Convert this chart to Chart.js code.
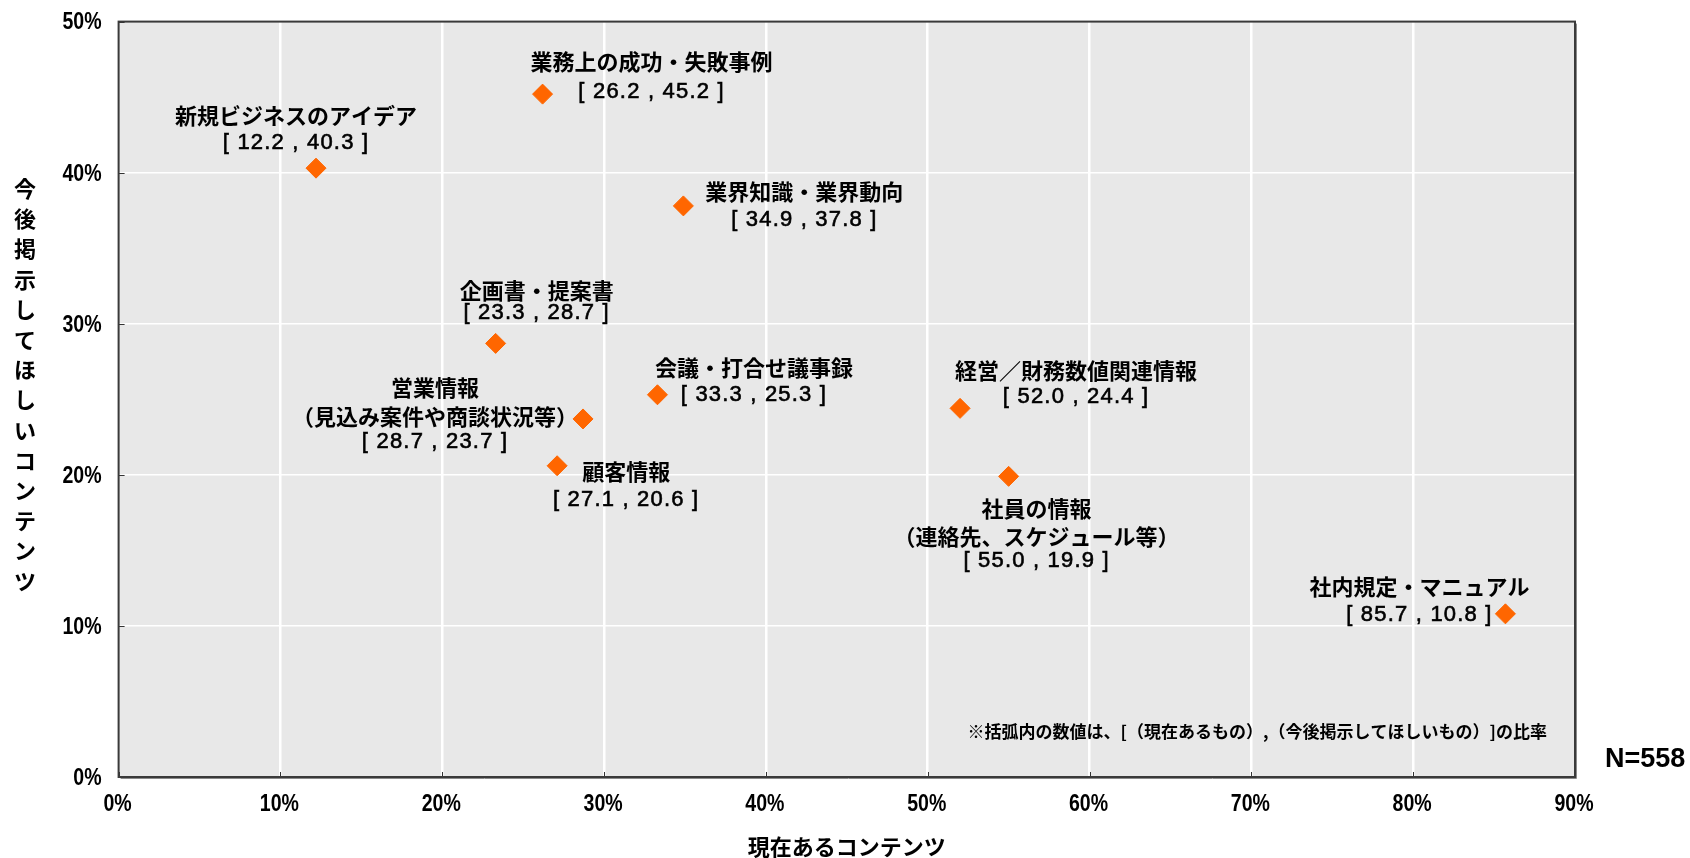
<!DOCTYPE html>
<html lang="ja">
<head>
<meta charset="utf-8">
<title>現在あるコンテンツ／今後掲示してほしいコンテンツ</title>
<script src="https://cdn.jsdelivr.net/npm/chart.js@4/dist/chart.umd.min.js"></script>
<style>
  html, body { margin: 0; padding: 0; background: #ffffff; }
  #wrap { position: relative; width: 1690px; height: 858px; }
</style>
</head>
<body>
<div id="wrap"><canvas id="c" width="1690" height="858"></canvas></div>
<script>
// ---- data -------------------------------------------------------------
const contentNames = [
  ['業務上の成功・失敗事例'],
  ['新規ビジネスのアイデア'],
  ['業界知識・業界動向'],
  ['企画書・提案書'],
  ['会議・打合せ議事録'],
  ['営業情報', '（見込み案件や商談状況等）'],
  ['顧客情報'],
  ['経営／財務数値関連情報'],
  ['社員の情報', '（連絡先、スケジュール等）'],
  ['社内規定・マニュアル']
];
// 現在あるコンテンツ (%)
const currentShare = [26.2, 12.2, 34.9, 23.3, 33.3, 28.7, 27.1, 52.0, 55.0, 85.7];
// 今後掲示してほしいコンテンツ (%)
const desiredShare = [45.2, 40.3, 37.8, 28.7, 25.3, 23.7, 20.6, 24.4, 19.9, 10.8];

const xTickValues = [0, 10, 20, 30, 40, 50, 60, 70, 80, 90];
const yTickValues = [0, 10, 20, 30, 40, 50];

const xTitle = '現在あるコンテンツ';
const yTitle = '今後掲示してほしいコンテンツ';
const noteText = '※括弧内の数値は、[（現在あるもの）,（今後掲示してほしいもの）]の比率';
const sampleSize = 558;

// ---- styling ------------------------------------------------------------
const CJK = "'Noto Sans CJK JP', 'Noto Sans', sans-serif";
const NUM = "'Liberation Sans', Arial, sans-serif";
const MARK = '#ff6600';

// label block placement relative to each marker: horizontal shift and
// vertical centre of each text line (name lines first, then the values)
const labelPlacement = [
  { dx: 109,  dy: [-32.5, -2.5] },
  { dx: -20,  dy: [-53, -25] },
  { dx: 121,  dy: [-14, 14] },
  { dx: 41,   dy: [-53, -30] },
  { dx: 96.5, dy: [-27, 0] },
  { dx: -148, dy: [-31, -2, 23] },
  { dx: 69,   dy: [6, 34] },
  { dx: 116,  dy: [-38, -11.5] },
  { dx: 28,   dy: [32, 60, 85] },
  { dx: -86,  dy: [-27, 1] }
];

const fmt = v => v.toFixed(1);
const pct = v => v + '%';

// draws text squeezed horizontally (narrow numerals for the axes)
function narrowText(ctx, text, x, y, align, squeeze) {
  ctx.save();
  ctx.translate(x, y);
  ctx.scale(squeeze, 1);
  ctx.textAlign = align;
  ctx.fillText(text, 0, 0);
  ctx.restore();
}

const plotFrame = {
  id: 'plotFrame',
  beforeDraw(chart) {
    const { ctx, chartArea: a } = chart;
    ctx.save();
    ctx.fillStyle = '#e8e8e8';
    ctx.fillRect(a.left, a.top, a.right - a.left, a.bottom - a.top);
    ctx.restore();
  },
  beforeDatasetsDraw(chart) {
    const { ctx, chartArea: a, scales } = chart;
    ctx.save();
    // short inner tick marks
    ctx.strokeStyle = '#333333';
    ctx.lineWidth = 1;
    ctx.beginPath();
    xTickValues.forEach(v => {
      const x = Math.round(scales.x.getPixelForValue(v)) + 0.5;
      ctx.moveTo(x, a.bottom);
      ctx.lineTo(x, a.bottom - 5);
    });
    yTickValues.forEach(v => {
      const y = Math.round(scales.y.getPixelForValue(v)) + 0.5;
      ctx.moveTo(a.left, y);
      ctx.lineTo(a.left + 6, y);
    });
    ctx.stroke();
    // frame
    ctx.strokeStyle = '#3a3a3a';
    ctx.lineWidth = 2;
    ctx.strokeRect(a.left, a.top, a.right - a.left, a.bottom - a.top);
    ctx.strokeStyle = '#8a8a8a';
    ctx.lineWidth = 1;
    ctx.beginPath();
    ctx.moveTo(a.right + 1.5, a.top + 2);
    ctx.lineTo(a.right + 1.5, a.bottom + 1.5);
    ctx.lineTo(a.left + 2, a.bottom + 1.5);
    ctx.stroke();

    // axis tick labels
    ctx.fillStyle = '#000000';
    ctx.textBaseline = 'middle';
    ctx.font = `bold 23px ${NUM}`;
    xTickValues.forEach(v => {
      narrowText(ctx, pct(v), scales.x.getPixelForValue(v) - 1, a.bottom + 28, 'center', 0.85);
    });
    yTickValues.forEach(v => {
      narrowText(ctx, pct(v), a.left - 17, scales.y.getPixelForValue(v) + 1.5, 'right', 0.85);
    });
    ctx.restore();
  },
  afterDatasetsDraw(chart) {
    const { ctx, chartArea: a } = chart;
    const meta = chart.getDatasetMeta(0);
    ctx.save();
    ctx.fillStyle = '#000000';
    ctx.strokeStyle = '#000000';
    ctx.lineWidth = 0.6;
    ctx.textAlign = 'center';
    ctx.textBaseline = 'middle';

    // point labels: name(s) and [current , desired]
    meta.data.forEach((pt, i) => {
      const place = labelPlacement[i];
      const lines = contentNames[i].map(t => ({ t, f: `bold 22px ${CJK}`, sp: '0px', heavy: false }));
      lines.push({
        t: `[ ${fmt(currentShare[i])} , ${fmt(desiredShare[i])} ]`,
        f: `22px ${NUM}`, sp: '1.2px', heavy: true
      });
      lines.forEach((ln, j) => {
        const x = pt.x + place.dx;
        const y = pt.y + place.dy[j];
        ctx.font = ln.f;
        ctx.letterSpacing = ln.sp;
        ctx.fillText(ln.t, x, y);
        if (ln.heavy) ctx.strokeText(ln.t, x, y);
      });
    });
    ctx.letterSpacing = '0px';

    // vertical axis title, characters stacked top to bottom
    ctx.font = `bold 22px ${CJK}`;
    const chars = Array.from(yTitle);
    const pitch = 30.2;
    const yMid = 385;
    chars.forEach((ch, k) => {
      ctx.fillText(ch, 25, yMid + (k - (chars.length - 1) / 2) * pitch);
    });

    // note inside the plot
    ctx.textAlign = 'right';
    ctx.font = `bold 17px ${CJK}`;
    ctx.fillText(noteText, a.right - 28, a.bottom - 45);

    // sample size
    ctx.textAlign = 'left';
    ctx.font = `bold 27px ${NUM}`;
    ctx.fillText(`N=${sampleSize}`, a.right + 30, a.bottom - 17);
    ctx.restore();
  }
};

const hideEdge = (scaleMin, scaleMax) => c =>
  (c.tick && (c.tick.value === scaleMin || c.tick.value === scaleMax)) ? 'rgba(0,0,0,0)' : '#ffffff';

new Chart(document.getElementById('c'), {
  type: 'scatter',
  data: {
    datasets: [{
      data: currentShare.map((x, i) => ({ x, y: desiredShare[i] })),
      pointStyle: 'rectRot',
      pointRadius: 10,
      pointHoverRadius: 10,
      backgroundColor: MARK,
      borderColor: MARK,
      borderWidth: 1,
      clip: false
    }]
  },
  options: {
    responsive: false,
    animation: false,
    events: [],
    layout: { padding: { top: 21.6, right: 115, left: 0, bottom: 0 } },
    plugins: { legend: { display: false }, tooltip: { enabled: false } },
    scales: {
      x: {
        type: 'linear',
        min: xTickValues[0],
        max: xTickValues[xTickValues.length - 1],
        afterBuildTicks: s => { s.ticks = xTickValues.map(value => ({ value })); },
        afterFit: s => { s.height = 81; },
        border: { display: false },
        grid: { color: hideEdge(0, 90), lineWidth: 2.5, drawTicks: false },
        ticks: { display: false, callback: pct },
        title: {
          display: true,
          text: xTitle,
          color: '#000000',
          padding: 0,
          font: { family: CJK, size: 22, weight: 'bold', lineHeight: 1 }
        }
      },
      y: {
        type: 'linear',
        min: yTickValues[0],
        max: yTickValues[yTickValues.length - 1],
        afterBuildTicks: s => { s.ticks = yTickValues.map(value => ({ value })); },
        afterFit: s => { s.width = 118.6; },
        border: { display: false },
        grid: { color: hideEdge(0, 50), lineWidth: 1.5, drawTicks: false },
        ticks: { display: false, callback: pct }
      }
    }
  },
  plugins: [plotFrame]
});
</script>
</body>
</html>
